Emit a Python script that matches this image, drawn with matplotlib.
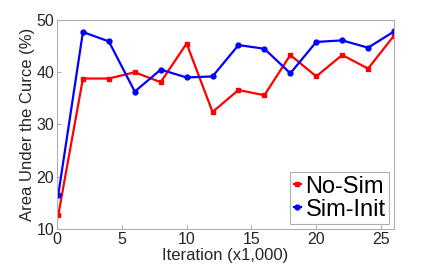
import matplotlib
matplotlib.use("Agg")
import matplotlib.pyplot as plt

plt.rcParams['font.family'] = ['Liberation Sans', 'DejaVu Sans']

iterations = [0.1, 2, 4, 6, 8, 10, 12, 14, 16, 18, 20, 22, 24, 26]
no_sim = [12.7, 38.8, 38.8, 40.0, 38.1, 45.5, 32.4, 36.6, 35.6, 43.3, 39.2, 43.3, 40.7, 47.0]
sim_init = [16.6, 47.7, 45.9, 36.3, 40.5, 39.0, 39.2, 45.2, 44.5, 39.8, 45.8, 46.1, 44.7, 47.8]

fig = plt.figure(figsize=(4.36, 2.72), dpi=100)
ax = fig.add_axes([57/436, 1 - 229/272, (394 - 57)/436, (229 - 20)/272])

ax.plot(iterations, no_sim, color='#ff0000', lw=1.6, marker='s', ms=3.5, label='No-Sim')
ax.plot(iterations, sim_init, color='#0000ff', lw=1.6, marker='o', ms=3.5, label='Sim-Init')

ax.set_xlim(0, 26)
ax.set_ylim(10, 50)
ax.set_xticks([0, 5, 10, 15, 20, 25])
ax.set_yticks([10, 20, 30, 40, 50])
ax.tick_params(direction='in', length=3, color='#b0b0b0', labelsize=11.5, labelcolor='#262626', pad=2)
for s in ax.spines.values():
    s.set_color('#b0b0b0')
    s.set_linewidth(0.8)

ax.set_xlabel('Iteration (x1,000)', fontsize=12, color='#262626', labelpad=1)
ax.set_ylabel('Area Under the Curce (%)', fontsize=12, color='#262626', labelpad=1)

leg = ax.legend(loc='lower right', fontsize=17, handlelength=0.3, handletextpad=0.2,
                borderpad=0.15, labelspacing=0.05, fancybox=False, framealpha=1,
                borderaxespad=0.2)
leg.get_frame().set_edgecolor('#b0b0b0')
leg.get_frame().set_linewidth(0.8)

fig.savefig('out.png', dpi=100)
